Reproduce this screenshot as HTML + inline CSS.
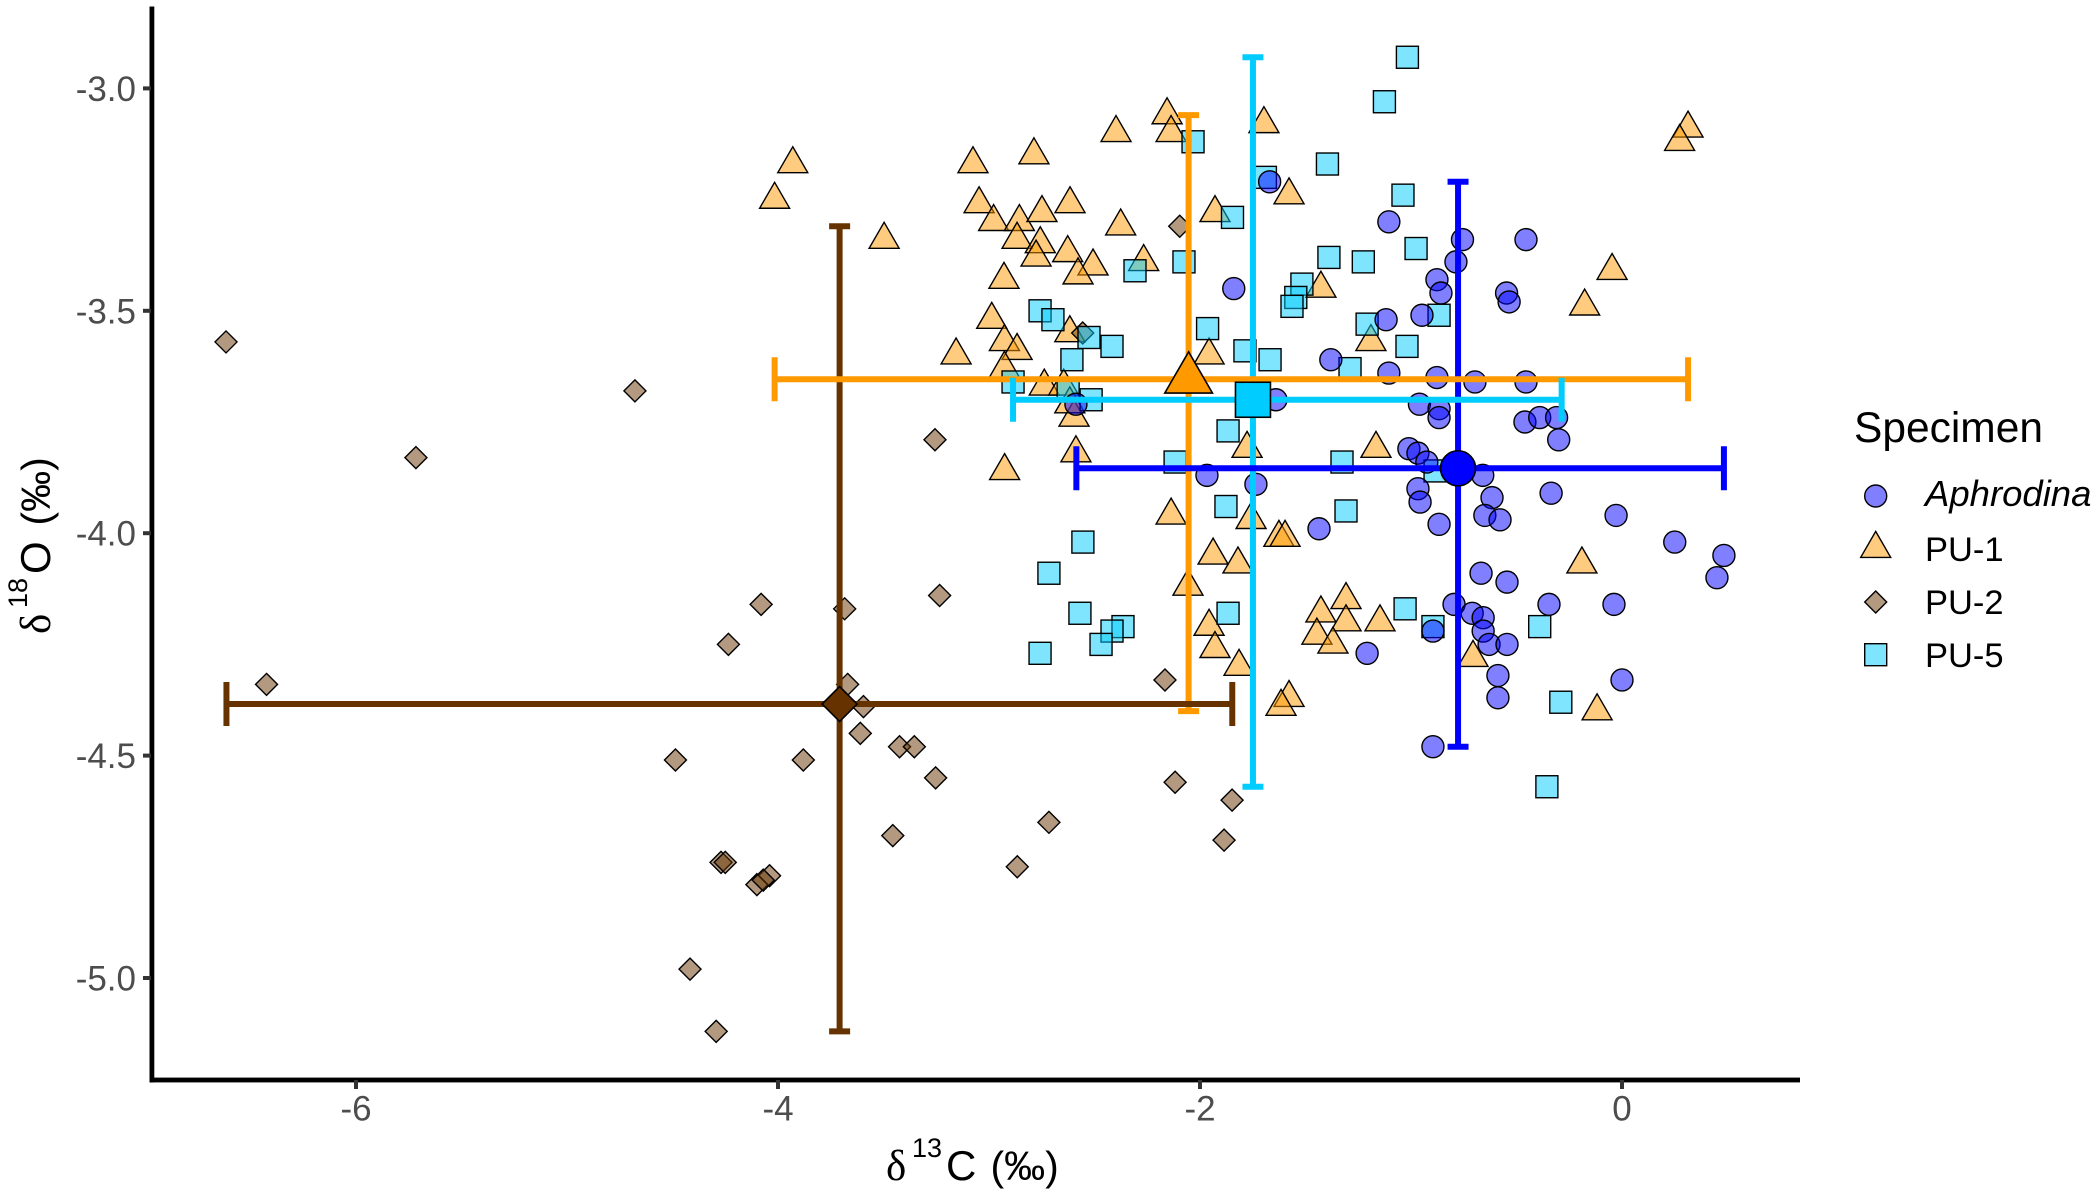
<!DOCTYPE html>
<html lang="en">
<head>
<meta charset="utf-8">
<title>Carbon and oxygen isotope scatter plot</title>
<style>
html,body{margin:0;padding:0;background:#fff;}
svg{display:block;font-family:"Liberation Sans",Arial,sans-serif;}
</style>
</head>
<body>
<svg id="chart" xmlns="http://www.w3.org/2000/svg" width="2098" height="1195" viewBox="0 0 2098 1195">
  <rect x="0" y="0" width="2098" height="1195" fill="#ffffff"/>
  <g id="points"></g>
  <g id="bars"></g>
  <g id="means"></g>
  <g id="axes">
    <rect x="149.5" y="6.5" width="4.8" height="1076" fill="#000"/>
    <rect x="149.5" y="1077.6" width="1650.5" height="4.8" fill="#000"/>
  </g>
  <g fill="#000">
    <text x="886" y="1180" font-size="43" font-family="'Liberation Serif','DejaVu Serif',serif">δ</text>
    <text x="912" y="1157" font-size="27">13</text>
    <text x="946" y="1180" font-size="42">C</text>
    <text x="990.5" y="1180" font-size="41">(‰)</text>
  </g>
  <g fill="#000" transform="translate(50,634) rotate(-90)">
    <text x="0" y="0" font-size="43" font-family="'Liberation Serif','DejaVu Serif',serif">δ</text>
    <text x="26" y="-23" font-size="27">18</text>
    <text x="60" y="0" font-size="42">O</text>
    <text x="108.5" y="0" font-size="41">(‰)</text>
  </g>
  <g>
    <text x="1854" y="442" font-size="42.5" fill="#000">Specimen</text>
    <g>
      <circle cx="1875.7" cy="496" r="11" fill="#0000ff" fill-opacity="0.5" stroke="#000" stroke-width="1.4"/>
      <text x="1925" y="506" font-size="36.5" font-style="italic" fill="#000">Aphrodina</text>
    </g>
    <g>
      <polygon points="1875.7,531.4 1890.7,557.4 1860.7,557.4" fill="#ff9900" fill-opacity="0.5" stroke="#000" stroke-width="1.4"/>
      <text x="1925" y="561" font-size="34.5" fill="#000">PU-1</text>
    </g>
    <g>
      <polygon points="1875.7,591 1886.7,602 1875.7,613 1864.7,602" fill="#663300" fill-opacity="0.5" stroke="#000" stroke-width="1.4"/>
      <text x="1925" y="614" font-size="34.5" fill="#000">PU-2</text>
    </g>
    <g>
      <rect x="1864.7" y="643.7" width="22" height="22" fill="#00ccff" fill-opacity="0.5" stroke="#000" stroke-width="1.4"/>
      <text x="1925" y="667" font-size="34.5" fill="#000">PU-5</text>
    </g>
  </g>
</svg>
<script>
const xTicks = [-6, -4, -2, 0];
const yTicks = [-3.0, -3.5, -4.0, -4.5, -5.0];
const yTickLabels = ['-3.0', '-3.5', '-4.0', '-4.5', '-5.0'];

const aphrodinaX = [-1.67,-1.105,-0.756,-0.455,-0.787,-0.877,-0.858,-0.547,-0.535,-1.84,-1.118,-0.948,-1.38,-1.105,-0.877,-0.697,-0.455,-1.64,-2.588,-0.96,-0.867,-0.867,-0.46,-0.39,-0.31,-0.30,-1.01,-0.967,-0.925,-0.66,-0.967,-0.957,-0.616,-0.65,-0.578,-0.867,-1.436,-0.336,-0.028,0.25,0.483,0.45,-0.668,-0.545,-0.796,-0.71,-0.658,-0.658,-0.346,-0.038,-0.896,-0.63,-0.545,-1.208,-0.588,-0.588,0,-0.896,-1.967,-1.735];
const aphrodinaY = [-3.21,-3.30,-3.34,-3.34,-3.39,-3.43,-3.46,-3.46,-3.48,-3.45,-3.52,-3.51,-3.61,-3.64,-3.65,-3.66,-3.66,-3.70,-3.71,-3.71,-3.72,-3.74,-3.75,-3.74,-3.74,-3.79,-3.81,-3.82,-3.84,-3.87,-3.90,-3.93,-3.92,-3.96,-3.97,-3.98,-3.99,-3.91,-3.96,-4.02,-4.05,-4.10,-4.09,-4.11,-4.16,-4.18,-4.19,-4.22,-4.16,-4.16,-4.22,-4.25,-4.25,-4.27,-4.32,-4.37,-4.33,-4.48,-3.87,-3.89];

const pu1X = [-3.93,-4.016,-3.497,-3.076,-2.787,-2.398,-2.156,-2.137,-3.047,-2.978,-2.856,-2.749,-2.616,-2.376,-2.867,-2.757,-2.777,-2.627,-2.507,-2.578,-2.929,-2.267,-2.987,-2.927,-2.867,-2.617,-3.156,-2.927,-2.738,-2.646,-2.597,-2.617,-2.588,-2.926,-1.957,-1.19,-1.777,-1.166,-2.137,-1.758,-1.626,-1.597,-1.938,-1.82,-2.057,-1.957,-1.929,-1.815,-1.578,-1.616,-1.308,-1.427,-1.308,-1.147,-1.446,-1.37,-0.706,-0.19,-0.118,-1.697,-1.578,-1.929,-1.427,-0.047,-0.177,0.313,0.273];
const pu1Y = [-3.17,-3.25,-3.34,-3.17,-3.15,-3.10,-3.06,-3.10,-3.26,-3.30,-3.30,-3.28,-3.26,-3.31,-3.34,-3.35,-3.38,-3.37,-3.40,-3.42,-3.43,-3.39,-3.52,-3.57,-3.59,-3.55,-3.60,-3.63,-3.67,-3.67,-3.74,-3.71,-3.82,-3.86,-3.60,-3.57,-3.81,-3.81,-3.96,-3.97,-4.01,-4.01,-4.05,-4.07,-4.12,-4.21,-4.26,-4.30,-4.37,-4.39,-4.15,-4.18,-4.20,-4.20,-4.23,-4.25,-4.28,-4.07,-4.40,-3.08,-3.24,-3.28,-3.45,-3.41,-3.49,-3.09,-3.12];

const pu2X = [-6.616,-5.716,-4.678,-6.424,-4.486,-4.417,-4.293,-4.10,-4.04,-4.07,-4.27,-4.25,-3.88,-4.235,-4.08,-3.684,-3.67,-3.595,-3.61,-3.424,-3.354,-3.253,-3.456,-3.234,-3.256,-2.716,-2.866,-2.118,-1.848,-1.886,-2.166,-2.096,-2.556];
const pu2Y = [-3.57,-3.83,-3.68,-4.34,-4.51,-4.98,-5.12,-4.79,-4.77,-4.78,-4.74,-4.74,-4.51,-4.25,-4.16,-4.17,-4.34,-4.39,-4.45,-4.48,-4.48,-4.55,-4.68,-4.14,-3.79,-4.65,-4.75,-4.56,-4.60,-4.69,-4.33,-3.31,-3.55];

const pu5X = [-1.017,-1.126,-1.396,-1.69,-1.038,-1.846,-0.976,-1.389,-1.226,-1.517,-1.546,-1.564,-1.208,-0.867,-1.964,-1.787,-1.668,-1.019,-1.289,-2.033,-2.308,-2.076,-2.758,-2.697,-2.526,-2.417,-2.607,-2.886,-2.625,-2.516,-1.867,-2.118,-1.327,-1.877,-1.308,-2.555,-2.716,-0.886,-1.028,-0.896,-0.39,-0.29,-0.356,-2.569,-1.867,-2.365,-2.417,-2.469,-2.758];
const pu5Y = [-2.93,-3.03,-3.17,-3.20,-3.24,-3.29,-3.36,-3.38,-3.39,-3.44,-3.47,-3.49,-3.53,-3.51,-3.54,-3.59,-3.61,-3.58,-3.63,-3.12,-3.41,-3.39,-3.50,-3.52,-3.56,-3.58,-3.61,-3.66,-3.68,-3.70,-3.77,-3.84,-3.84,-3.94,-3.95,-4.02,-4.09,-3.86,-4.17,-4.21,-4.21,-4.38,-4.57,-4.18,-4.18,-4.21,-4.22,-4.25,-4.27];

const meanGroups = ['pu-2', 'pu-1', 'pu-5', 'aphrodina'];
const meanX = [-3.708, -2.054, -1.749, -0.777];
const meanY = [-4.384, -3.654, -3.70, -3.854];
const xLow  = [-6.614, -4.016, -2.886, -2.586];
const xHigh = [-1.847, 0.313, -0.286, 0.483];
const yLow  = [-5.12, -4.40, -4.57, -4.48];
const yHigh = [-3.31, -3.06, -2.93, -3.21];
const groupColors = ['#663300', '#ff9900', '#00ccff', '#0000ff'];

const NS = 'http://www.w3.org/2000/svg';
const xScale = v => 1622 + 211 * v;
const yScale = v => 88.4 + (-3 - v) * 444.8;

function make(tag, parent, attrs) {
  const el = document.createElementNS(NS, tag);
  for (const k in attrs) el.setAttribute(k, attrs[k]);
  parent.appendChild(el);
  return el;
}

function circleAt(parent, x, y, r, fill, op, sw) {
  return make('circle', parent, {cx: x, cy: y, r: r, fill: fill, 'fill-opacity': op, stroke: '#000', 'stroke-width': sw});
}
function triangleAt(parent, x, y, k, fill, op, sw) {
  const pts = [[x, y - 17.3 * k], [x + 15 * k, y + 8.65 * k], [x - 15 * k, y + 8.65 * k]].map(p => p.join(',')).join(' ');
  return make('polygon', parent, {points: pts, fill: fill, 'fill-opacity': op, stroke: '#000', 'stroke-width': sw});
}
function diamondAt(parent, x, y, h, fill, op, sw) {
  const pts = [[x, y - h], [x + h, y], [x, y + h], [x - h, y]].map(p => p.join(',')).join(' ');
  return make('polygon', parent, {points: pts, fill: fill, 'fill-opacity': op, stroke: '#000', 'stroke-width': sw});
}
function squareAt(parent, x, y, s, fill, op, sw) {
  return make('rect', parent, {x: x - s / 2, y: y - s / 2, width: s, height: s, fill: fill, 'fill-opacity': op, stroke: '#000', 'stroke-width': sw});
}

const pointsG = document.getElementById('points');
pu1X.forEach((v, i) => {
  const el = triangleAt(pointsG, xScale(v), yScale(pu1Y[i]), 1, '#ff9900', 0.5, 1.4);
  
  
});
pu2X.forEach((v, i) => {
  const el = diamondAt(pointsG, xScale(v), yScale(pu2Y[i]), 11, '#663300', 0.5, 1.4);
  
  
});
pu5X.forEach((v, i) => {
  const el = squareAt(pointsG, xScale(v), yScale(pu5Y[i]), 22, '#00ccff', 0.5, 1.4);
  
  
});
aphrodinaX.forEach((v, i) => {
  const el = circleAt(pointsG, xScale(v), yScale(aphrodinaY[i]), 11, '#0000ff', 0.5, 1.4);
  
  
});

const barsG = document.getElementById('bars');
const BAR = 6;
function barLine(x1, y1, x2, y2, color) {
  return make('line', barsG, {x1: x1, y1: y1, x2: x2, y2: y2, stroke: color, 'stroke-width': BAR});
}
/* vertical bars first, horizontal bars on top */
[1, 0, 2, 3].forEach(i => {
  const cx = xScale(meanX[i]);
  const c = groupColors[i];
  const v = barLine(cx, yScale(yHigh[i]), cx, yScale(yLow[i]), c);
  
  
  const t = barLine(cx - 10.5, yScale(yHigh[i]), cx + 10.5, yScale(yHigh[i]), c);
  
  
  const b = barLine(cx - 10.5, yScale(yLow[i]), cx + 10.5, yScale(yLow[i]), c);
  
  
});
[0, 1, 2, 3].forEach(i => {
  const cy = yScale(meanY[i]);
  const c = groupColors[i];
  const h = barLine(xScale(xLow[i]), cy, xScale(xHigh[i]), cy, c);
  
  
  const l = barLine(xScale(xLow[i]), cy - 22, xScale(xLow[i]), cy + 22, c);
  
  
  const r = barLine(xScale(xHigh[i]), cy - 22, xScale(xHigh[i]), cy + 22, c);
  
  
});

const meansG = document.getElementById('means');
const mDiamond = diamondAt(meansG, xScale(meanX[0]), yScale(meanY[0]), 17.5, groupColors[0], 1, 1.6);


const mTriangle = triangleAt(meansG, xScale(meanX[1]), yScale(meanY[1]), 1.59, groupColors[1], 1, 1.6);


const mSquare = squareAt(meansG, xScale(meanX[2]), yScale(meanY[2]), 35, groupColors[2], 1, 1.6);


const mCircle = circleAt(meansG, xScale(meanX[3]), yScale(meanY[3]), 17.5, groupColors[3], 1, 1.6);



const axesG = document.getElementById('axes');
xTicks.forEach(v => {
  const x = xScale(v);
  const tick = make('rect', axesG, {x: x - 2, y: 1080, width: 4, height: 9, fill: '#333'});
  
  
  const label = make('text', axesG, {x: x, y: 1120.5, 'font-size': 35, fill: '#4d4d4d', 'text-anchor': 'middle'});
  label.textContent = String(v);
  
  
});
yTicks.forEach((v, i) => {
  const y = yScale(v);
  const tick = make('rect', axesG, {x: 143, y: y - 2, width: 8, height: 4, fill: '#333'});
  
  
  const label = make('text', axesG, {x: 136, y: y + 12.5, 'font-size': 35, fill: '#4d4d4d', 'text-anchor': 'end'});
  label.textContent = yTickLabels[i];
  
  
});
</script>
</body>
</html>
